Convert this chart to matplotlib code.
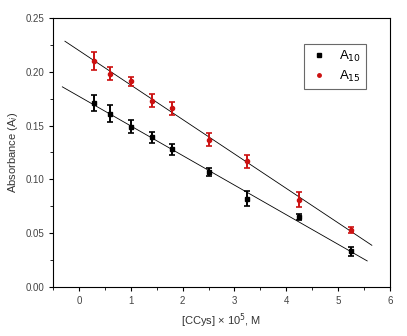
import matplotlib.pyplot as plt
import numpy as np
from matplotlib.ticker import MultipleLocator
from matplotlib.lines import Line2D

plt.rcParams['font.family'] = ['Liberation Sans', 'DejaVu Sans']

conc = [0.3, 0.6, 1.0, 1.4, 1.8, 2.5, 3.25, 4.25, 5.25]
a10 = [0.171, 0.161, 0.149, 0.139, 0.128, 0.107, 0.082, 0.065, 0.033]
a10_err = [0.007, 0.008, 0.006, 0.005, 0.005, 0.004, 0.007, 0.003, 0.004]
a15 = [0.210, 0.198, 0.191, 0.173, 0.166, 0.137, 0.117, 0.081, 0.053]
a15_err = [0.008, 0.006, 0.004, 0.006, 0.006, 0.006, 0.006, 0.007, 0.003]

fig = plt.figure(figsize=(4.07, 3.36), dpi=100)
ax = fig.add_axes([53/407, 1-287/336, (390-53)/407, (287-18)/336])

# linear fits, extended past the data range
for y, x0, x1 in [(a10, -0.32, 5.56), (a15, -0.27, 5.65)]:
    k, b = np.polyfit(conc, y, 1)
    xx = np.array([x0, x1])
    ax.plot(xx, k*xx + b, color='black', lw=0.6)

red = '#cc1111'
ax.errorbar(conc, a10, yerr=a10_err, fmt='s', color='black', ms=3,
            elinewidth=1.4, capsize=2.5, capthick=1.2)
ax.errorbar(conc, a15, yerr=a15_err, fmt='o', color=red, ms=3,
            elinewidth=1.4, capsize=2.5, capthick=1.2)

ax.set_xlim(-0.5, 6)
ax.set_ylim(0, 0.25)
ax.xaxis.set_major_locator(MultipleLocator(1))
ax.xaxis.set_minor_locator(MultipleLocator(0.5))
ax.yaxis.set_major_locator(MultipleLocator(0.05))
ax.yaxis.set_minor_locator(MultipleLocator(0.025))
ax.yaxis.set_major_formatter(plt.FormatStrFormatter('%.2f'))
ax.tick_params(which='both', direction='out', labelsize=7, labelcolor='#444444')
ax.tick_params(which='major', length=3)
ax.tick_params(which='minor', length=2)

ax.set_xlabel('[CCys] × 10$^5$, M', fontsize=8, color='#333333')
ax.set_ylabel('Absorbance (A$_i$)', fontsize=8, color='#333333')

handles = [Line2D([], [], ls='none', marker='s', ms=2.5, color='black'),
           Line2D([], [], ls='none', marker='o', ms=2.5, color=red)]
leg = ax.legend(handles, ['A$_{10}$', 'A$_{15}$'], loc='upper right',
                bbox_to_anchor=(0.929, 0.903), borderaxespad=0, fontsize=9.5,
                fancybox=False, edgecolor='#444444', handlelength=1.5,
                handletextpad=0.8, borderpad=0.35, labelspacing=0.4)
leg.get_frame().set_linewidth(0.8)

plt.savefig('out.png', dpi=100)
